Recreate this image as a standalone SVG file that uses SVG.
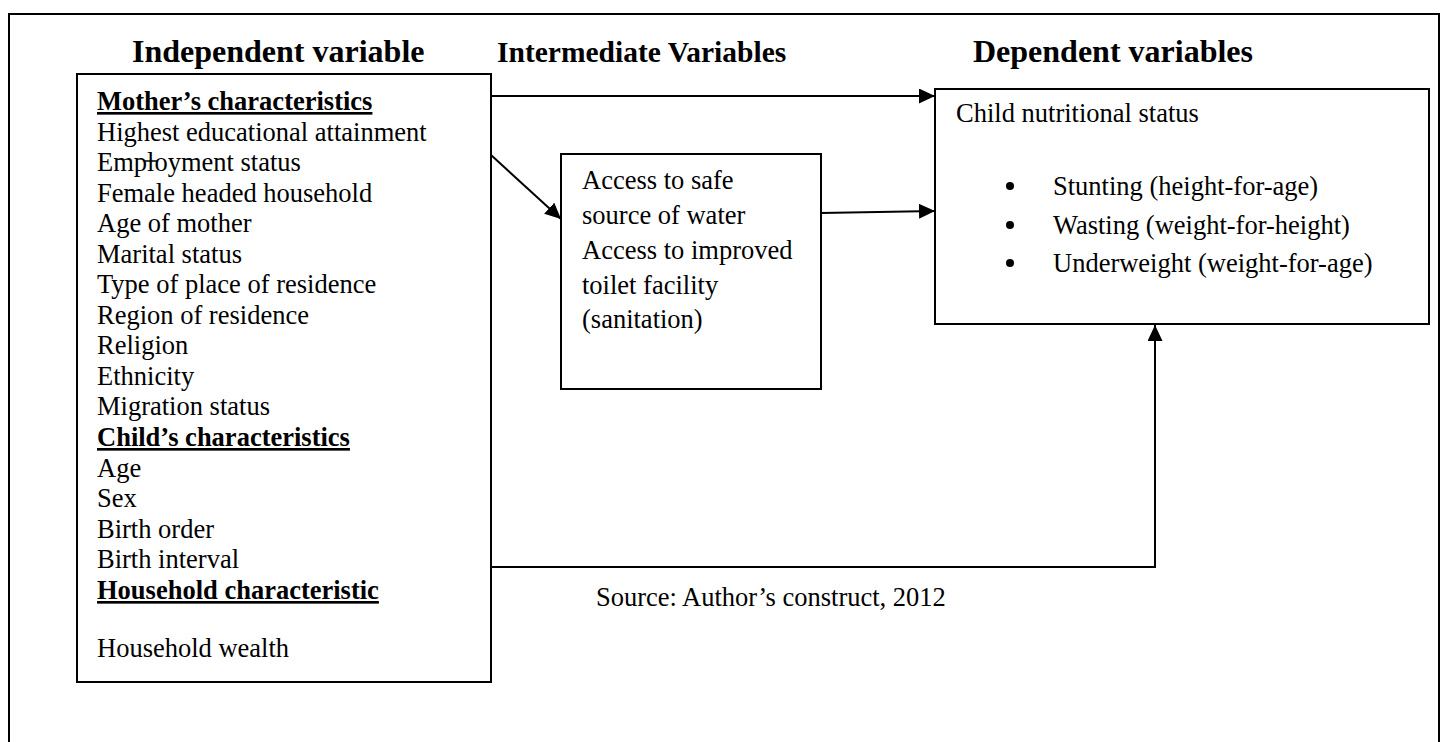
<svg xmlns="http://www.w3.org/2000/svg" width="1446" height="742" viewBox="0 0 1446 742">
  <style>
    .frame { fill: none; stroke: #000; stroke-width: 2; }
    .box { fill: #fff; stroke: #000; stroke-width: 2; }
    .conn { fill: none; stroke: #000; stroke-width: 2; }
    .title { font-family: "Liberation Serif", "Times New Roman", serif; font-size: 32px; font-weight: bold; fill: #000; }
    .txt { font-family: "Liberation Serif", "Times New Roman", serif; font-size: 26.5px; fill: #000; }
    .hdr { font-weight: bold; text-decoration: underline; }
    .bullet { fill: #000; }
  </style>
  <defs>
    <marker id="arrow" viewBox="0 0 16 15" refX="16" refY="7.5" markerWidth="16" markerHeight="15" markerUnits="userSpaceOnUse" orient="auto">
      <path d="M0,0 L16,7.5 L0,15 Z" fill="#000"/>
    </marker>
  </defs>
  <rect width="1446" height="742" fill="#fff"/>
  <path class="frame" d="M9,750 L9,14 L1439,14 L1439,750"/>

  <g id="titles">
    <text class="title" x="132" y="62">Independent variable</text>
    <text class="title" x="497" y="62" style="font-size:29.5px">Intermediate Variables</text>
    <text class="title" x="973" y="62">Dependent variables</text>
  </g>

  <g id="independent">
    <rect class="box" x="77" y="74" width="414" height="608"/>
    <text class="txt" x="97" y="110"><tspan class="hdr">Mother’s characteristics</tspan></text>
    <text class="txt" x="97" y="140.5">Highest educational attainment</text>
    <text class="txt" x="97" y="171">Employment status</text>
    <line x1="145" y1="161" x2="157" y2="161" stroke="#000" stroke-width="1.5"/>
    <text class="txt" x="97" y="201.5">Female headed household</text>
    <text class="txt" x="97" y="232">Age of mother</text>
    <text class="txt" x="97" y="262.5">Marital status</text>
    <text class="txt" x="97" y="293">Type of place of residence</text>
    <text class="txt" x="97" y="323.5">Region of residence</text>
    <text class="txt" x="97" y="354">Religion</text>
    <text class="txt" x="97" y="384.5">Ethnicity</text>
    <text class="txt" x="97" y="415">Migration status</text>
    <text class="txt" x="97" y="446"><tspan class="hdr">Child’s characteristics</tspan></text>
    <text class="txt" x="97" y="476.5">Age</text>
    <text class="txt" x="97" y="507">Sex</text>
    <text class="txt" x="97" y="537.5">Birth order</text>
    <text class="txt" x="97" y="568">Birth interval</text>
    <text class="txt" x="97" y="599"><tspan class="hdr">Household characteristic</tspan></text>
    <text class="txt" x="97" y="657">Household wealth</text>
  </g>

  <g id="intermediate">
    <rect class="box" x="561" y="154" width="260" height="235"/>
    <text class="txt" x="582" y="189">Access to safe</text>
    <text class="txt" x="582" y="224">source of water</text>
    <text class="txt" x="582" y="259">Access to improved</text>
    <text class="txt" x="582" y="293.5">toilet facility</text>
    <text class="txt" x="582" y="328">(sanitation)</text>
  </g>

  <g id="dependent">
    <rect class="box" x="935" y="89" width="494" height="235"/>
    <text class="txt" x="956" y="122">Child nutritional status</text>
    <circle class="bullet" cx="1010" cy="186" r="4"/>
    <text class="txt" x="1053" y="195">Stunting (height-for-age)</text>
    <circle class="bullet" cx="1010" cy="225" r="4"/>
    <text class="txt" x="1053" y="233.5">Wasting (weight-for-height)</text>
    <circle class="bullet" cx="1010" cy="263" r="4"/>
    <text class="txt" x="1053" y="272">Underweight (weight-for-age)</text>
  </g>

  <g id="source">
    <text class="txt" x="596" y="606">Source: Author’s construct, 2012</text>
  </g>

  <g id="connectors">
    <line class="conn" x1="491" y1="96" x2="935" y2="96" marker-end="url(#arrow)"/>
    <line class="conn" x1="491" y1="155" x2="561" y2="219" marker-end="url(#arrow)"/>
    <line class="conn" x1="821" y1="213" x2="935" y2="211" marker-end="url(#arrow)"/>
    <polyline class="conn" points="491,567 1155,567 1155,325" marker-end="url(#arrow)"/>
  </g>
</svg>
